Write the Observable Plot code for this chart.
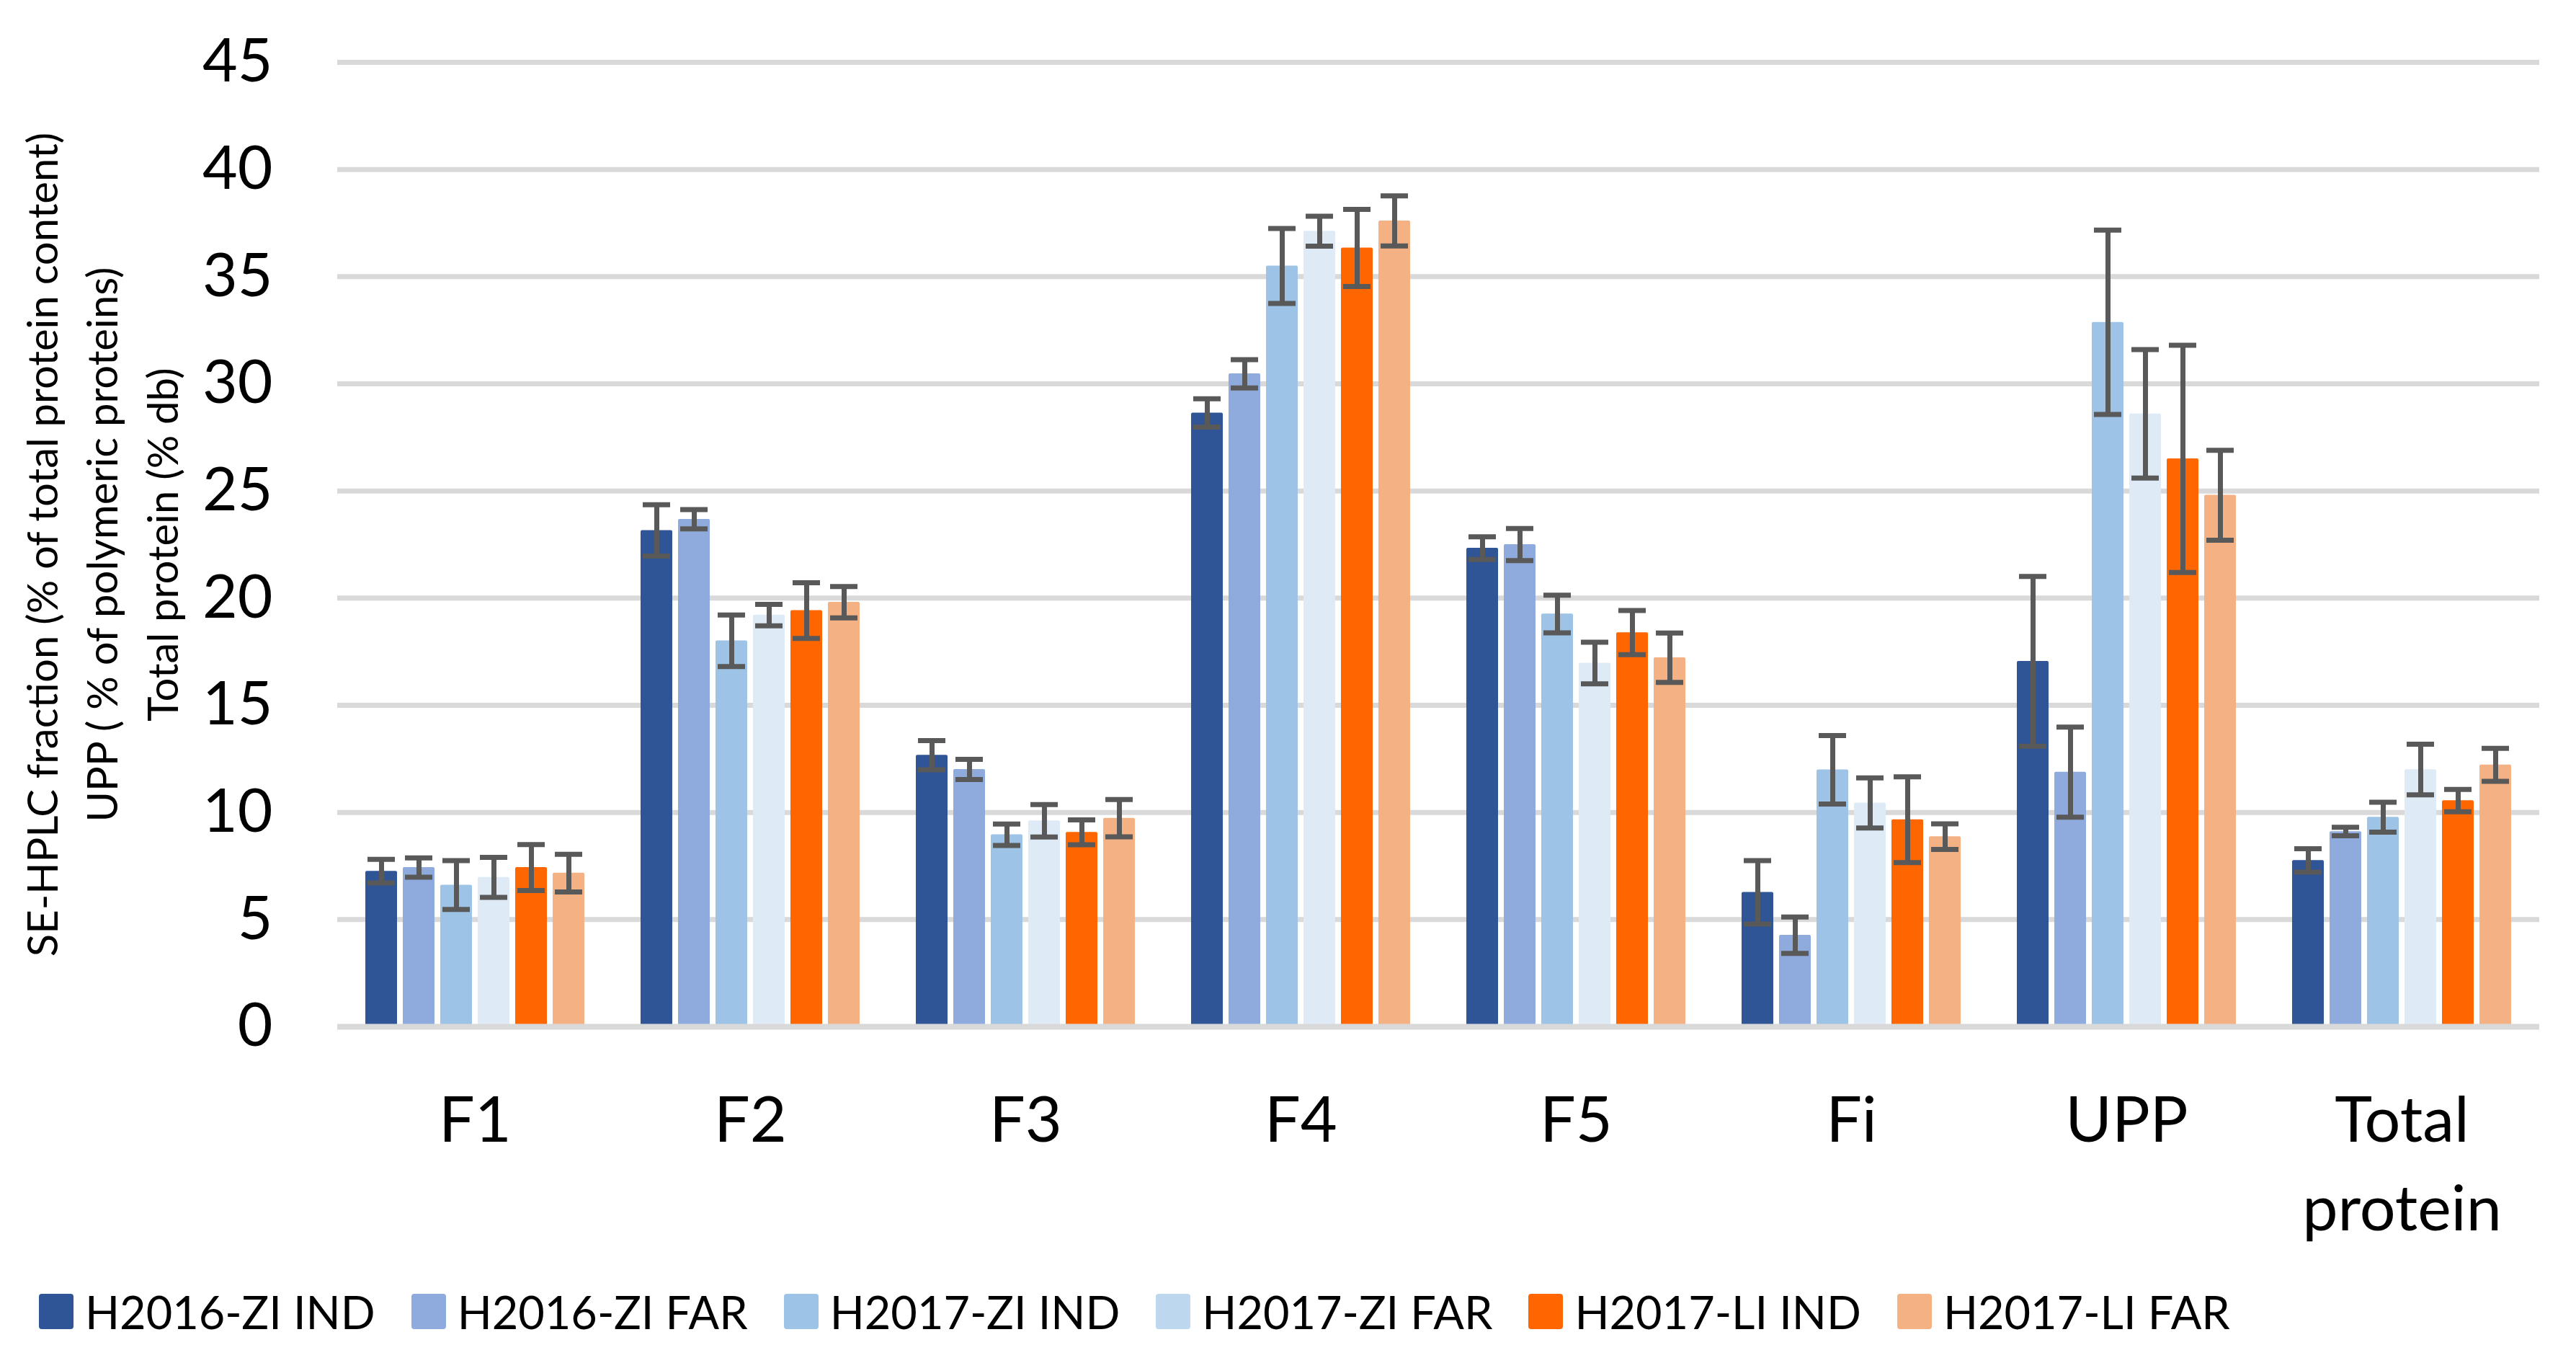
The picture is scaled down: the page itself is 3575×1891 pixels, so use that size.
<!DOCTYPE html>
<html>
<head>
<meta charset="utf-8">
<script src="https://cdn.jsdelivr.net/npm/d3@7"></script>
<script src="https://cdn.jsdelivr.net/npm/@observablehq/plot@0.6"></script>
<style>
  html, body { margin: 0; padding: 0; background: #ffffff; }
  #chart svg { display: block; }
  #legend { display: flex; align-items: center; padding-left: 54px; padding-top: 0px; height: 131px;
            box-sizing: border-box; align-content: flex-start;
            font-family: Lato, "Open Sans", sans-serif; font-size: 63px; line-height: 65px; color: #000; }
  #legend { align-items: flex-start; }
  .item { display: flex; align-items: center; margin-right: 50px; white-space: nowrap; margin-top: 27px; }
  .sw { width: 48px; height: 49px; border-radius: 4px; margin-right: 16px; }
</style>
</head>
<body>
<div id="chart"></div>
<div id="legend"></div>
<script>
const categories = ["F1", "F2", "F3", "F4", "F5", "Fi", "UPP", "Total protein"];
const categoryLabels = ["F1", "F2", "F3", "F4", "F5", "Fi", "UPP", "Total\nprotein"];
const series = ["H2016-ZI IND", "H2016-ZI FAR", "H2017-ZI IND", "H2017-ZI FAR", "H2017-LI IND", "H2017-LI FAR"];
const colors = ["#2F5597", "#8FAADC", "#9DC3E6", "#DEEBF7", "#FF6600", "#F4B183"];
const legendColors = ["#2F5597", "#8FAADC", "#9DC3E6", "#BDD7EE", "#FF6600", "#F4B183"];

// mean values per series, in category order
const h2016ziInd = [7.26, 23.16, 12.67, 28.64, 22.33, 6.27, 17.05, 7.76];
const h2016ziFar = [7.43, 23.68, 12.01, 30.47, 22.50, 4.27, 11.88, 9.11];
const h2017ziInd = [6.61, 18.01, 8.96, 35.50, 19.26, 11.99, 32.87, 9.78];
const h2017ziFar = [6.97, 19.21, 9.61, 37.12, 16.97, 10.44, 28.60, 12.00];
const h2017liInd = [7.43, 19.42, 9.07, 36.34, 18.39, 9.66, 26.50, 10.55];
const h2017liFar = [7.17, 19.81, 9.73, 37.60, 17.22, 8.87, 24.80, 12.22];

// error bar half-lengths per series
const errH2016ziInd = [0.55, 1.20, 0.68, 0.66, 0.53, 1.48, 3.96, 0.55];
const errH2016ziFar = [0.45, 0.45, 0.47, 0.66, 0.75, 0.85, 2.10, 0.20];
const errH2017ziInd = [1.14, 1.20, 0.50, 1.75, 0.88, 1.60, 4.30, 0.70];
const errH2017ziFar = [0.93, 0.50, 0.76, 0.70, 0.97, 1.17, 3.00, 1.18];
const errH2017liInd = [1.07, 1.30, 0.58, 1.80, 1.03, 2.00, 5.30, 0.52];
const errH2017liFar = [0.88, 0.73, 0.87, 1.17, 1.15, 0.60, 2.10, 0.77];

const yTicks = [0, 5, 10, 15, 20, 25, 30, 35, 40, 45];
const yTitle = "SE-HPLC fraction (% of total protein content)\nUPP ( % of polymeric proteins)\nTotal protein (% db)";

const means = [h2016ziInd, h2016ziFar, h2017ziInd, h2017ziFar, h2017liInd, h2017liFar];
const errs = [errH2016ziInd, errH2016ziFar, errH2017ziInd, errH2017ziFar, errH2017liInd, errH2017liFar];

const rows = [];
categories.forEach((c, ci) => {
  series.forEach((s, si) => {
    rows.push({cat: c, series: s, v: means[si][ci], e: errs[si][ci]});
  });
});
const catLabel = new Map(categories.map((c, i) => [c, categoryLabels[i]]));

const FONT = "Lato, 'Open Sans', sans-serif";
const ERR = "#595959";

const plot = Plot.plot({
  width: 3575,
  height: 1760,
  marginLeft: 465,
  marginRight: 48,
  marginTop: 86,
  marginBottom: 336,
  style: {fontFamily: FONT, fontSize: "84px", background: "#ffffff", color: "#000000"},
  fx: {domain: categories, paddingInner: 0, paddingOuter: 0, axis: null, label: null},
  x: {domain: series, paddingInner: 0.15, paddingOuter: 0.686, axis: null, label: null},
  y: {domain: [0, 45], ticks: yTicks, tickSize: 0, tickPadding: 90, label: null},
  color: {domain: series, range: colors},
  marks: [
    Plot.ruleY(yTicks.filter(t => t > 0), {stroke: "#D9D9D9", strokeWidth: 7}),
    Plot.barY(rows, {fx: "cat", x: "series", y: "v", fill: "series", rx: 2}),
    Plot.ruleY([0], {stroke: "#D9D9D9", strokeWidth: 8}),
    Plot.ruleX(rows, {fx: "cat", x: "series", y1: d => d.v - d.e, y2: d => d.v + d.e, stroke: ERR, strokeWidth: 7}),
    Plot.tickY(rows, {fx: "cat", x: "series", y: d => d.v + d.e, stroke: ERR, strokeWidth: 7, insetLeft: 3, insetRight: 3}),
    Plot.tickY(rows, {fx: "cat", x: "series", y: d => d.v - d.e, stroke: ERR, strokeWidth: 7, insetLeft: 3, insetRight: 3}),
    Plot.text(categories, {fx: d => d, text: d => catLabel.get(d), frameAnchor: "bottom", lineAnchor: "top", dy: 73,
      fontSize: 88, lineHeight: 1.39, fill: "#000", fontFamily: FONT}),
    Plot.text([yTitle], {fx: () => categories[0], text: d => d, frameAnchor: "left", rotate: -90, dx: -448,
      lineAnchor: "top", textAnchor: "middle", fontSize: 58, lineHeight: 1.44, fill: "#000", fontFamily: FONT})
  ]
});
document.getElementById("chart").appendChild(plot);

const legend = document.getElementById("legend");
series.forEach((s, i) => {
  const item = document.createElement("div");
  item.className = "item";
  const sw = document.createElement("div");
  sw.className = "sw";
  sw.style.background = legendColors[i];
  const label = document.createElement("span");
  label.textContent = s;
  item.appendChild(sw);
  item.appendChild(label);
  legend.appendChild(item);
});
</script>
</body>
</html>
